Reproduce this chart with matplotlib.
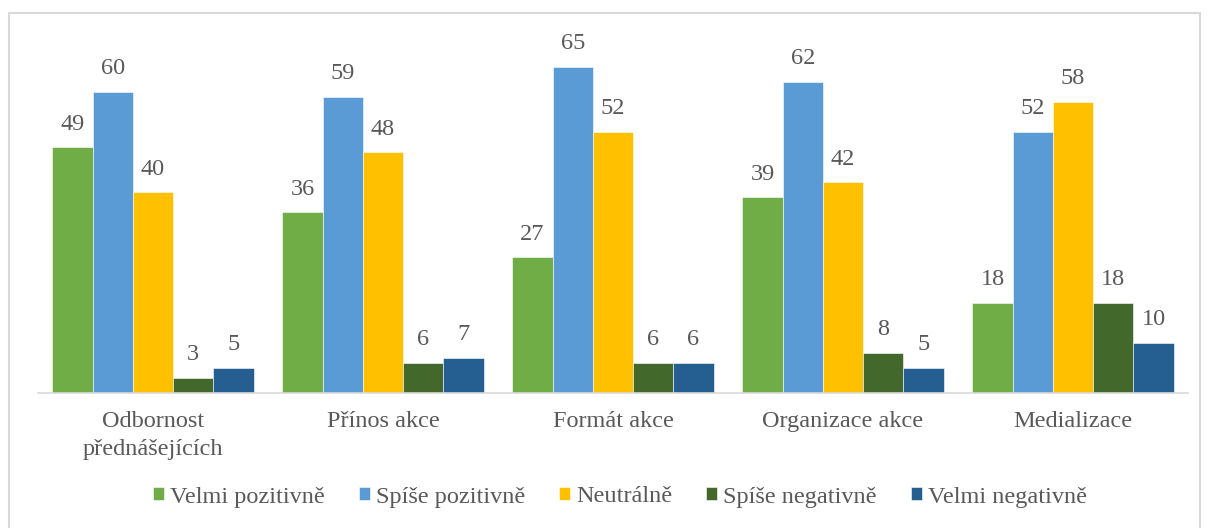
import matplotlib.pyplot as plt
import numpy as np
from matplotlib.patches import Rectangle

plt.rcParams['font.family'] = ['Liberation Serif', 'DejaVu Serif']

kategorie = ['Odbornost\npřednášejících', 'Přínos akce', 'Formát akce',
             'Organizace akce', 'Medializace']
serie = ['Velmi pozitivně', 'Spíše pozitivně', 'Neutrálně',
         'Spíše negativně', 'Velmi negativně']
velmi_pozitivne = [49, 36, 27, 39, 18]
spise_pozitivne = [60, 59, 65, 62, 52]
neutralne = [40, 48, 52, 42, 58]
spise_negativne = [3, 6, 6, 8, 18]
velmi_negativne = [5, 7, 6, 5, 10]
hodnoty = [velmi_pozitivne, spise_pozitivne, neutralne,
           spise_negativne, velmi_negativne]
barvy = ['#70AD47', '#5B9BD5', '#FFC000', '#43682B', '#255E91']

sedy_text = '#595959'
fs = 17.5

fig = plt.figure(figsize=(12.08, 5.28), dpi=100)
W, H = 1208, 528
ax = fig.add_axes([38 / W, (H - 393) / H, (1188 - 38) / W, (393 - 41.6) / H])

x = np.arange(len(kategorie))
sirka = 0.175
for i, (nazev, vals, c) in enumerate(zip(serie, hodnoty, barvy)):
    pos = x + (i - 2) * sirka
    bars = ax.bar(pos, vals, sirka, color=c, label=nazev,
                  edgecolor='white', linewidth=0.4)
    for b, v in zip(bars, vals):
        ax.annotate(str(v), (b.get_x() + b.get_width() / 2, v),
                    xytext=(0, 9), textcoords='offset points',
                    ha='center', va='bottom', fontsize=fs, color=sedy_text)

ax.set_xlim(-0.5, len(kategorie) - 0.5)
ax.set_ylim(0, 70)
ax.set_yticks([])
ax.set_xticks(x)
ax.set_xticklabels(kategorie, fontsize=fs, color=sedy_text, linespacing=1.45)
ax.tick_params(axis='x', length=0, pad=13)
for s in ['top', 'right', 'left']:
    ax.spines[s].set_visible(False)
ax.spines['bottom'].set_color('#d9d9d9')
ax.spines['bottom'].set_linewidth(1.2)
ax.patch.set_alpha(0)

fig.legend(loc='center', bbox_to_anchor=(0.513, 1 - 497 / H), ncol=5,
           frameon=False, fontsize=fs, handlelength=0.45, handleheight=0.45,
           handletextpad=0.25, columnspacing=1.4, labelcolor=sedy_text)

fig.patches.append(Rectangle((9 / W, -0.01), (1200 - 9) / W, 1 - 13 / H + 0.01,
                             transform=fig.transFigure, fill=False,
                             edgecolor='#d9d9d9', linewidth=1.5))

fig.savefig('out.png', dpi=100)
